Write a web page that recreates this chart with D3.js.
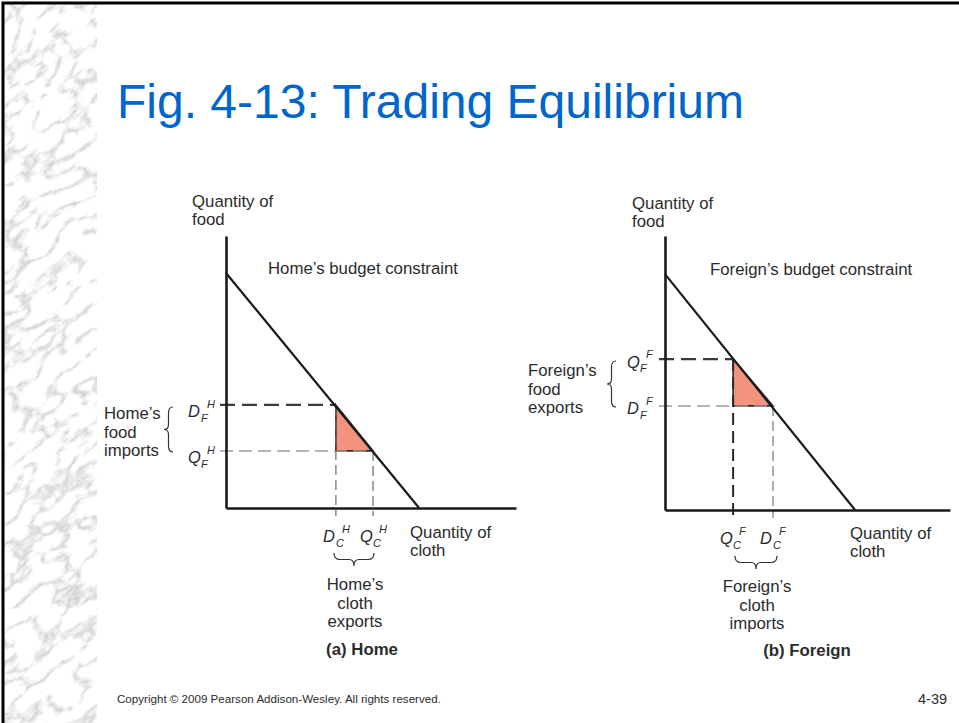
<!DOCTYPE html>
<html><head><meta charset="utf-8">
<script src="https://cdn.jsdelivr.net/npm/d3@7"></script>
<style>
html,body{margin:0;padding:0;background:#fff;}
svg{display:block;}
text{font-family:"Liberation Sans",Arial,Helvetica,sans-serif;}
</style>
</head><body>
<svg id="c" width="959" height="723"></svg>
<script>
// ---------- data ----------
const panelTitles = ["(a) Home", "(b) Foreign"];
const countryMarks = ["H", "F"];
const budgetFoodIntercept = [8.64, 8.61];
const budgetClothIntercept = [6.66, 6.67];
const clothConsumption = [3.79, 3.79];   // D_C
const clothProduction  = [5.07, 2.39];   // Q_C
const foodConsumption  = [3.79, 3.80];   // D_F
const foodProduction   = [2.10, 5.51];   // Q_F
const budgetLabels = ["Home\u2019s budget constraint", "Foreign\u2019s budget constraint"];
const foodTradeLabels = [["Home\u2019s","food","imports"], ["Foreign\u2019s","food","exports"]];
const clothTradeLabels = [["Home\u2019s","cloth","exports"], ["Foreign\u2019s","cloth","imports"]];
const axisTitleY = ["Quantity of", "food"];
const axisTitleX = ["Quantity of", "cloth"];
const titleText = "Fig. 4-13: Trading Equilibrium";
const copyrightText = "Copyright \u00a9 2009 Pearson Addison-Wesley. All rights reserved.";
const slideNumber = "4-39";

// ---------- layout ----------
const FS = 16.8;
const TXT = "#2b2b2b";
const layout = [
  {x0:226, x1:516, y0:508, y1:236, leftLabDy:12.5, yT:[192,207], bud:[268,274], xT:[410,538],
   foodLab:[104,419], foodBrace:[164,407,452], clothLab:[355,590], clothBrace:[334,374,553], pT:[362,655]},
  {x0:665, x1:950, y0:510, y1:236, leftLabDy:8.5, yT:[632,209], bud:[710,275], xT:[850,539],
   foodLab:[528,376], foodBrace:[607,361,407], clothLab:[757,592], clothBrace:[735,777,556], pT:[807,656]}
];

const svg = d3.select("#c");
const defs = svg.append("defs");

// marble strip
const f = defs.append("filter").attr("id","marble").attr("x",0).attr("y",0).attr("width","100%").attr("height","100%");
f.append("feTurbulence").attr("type","turbulence").attr("baseFrequency","0.03 0.055").attr("numOctaves",5).attr("seed",11).attr("result","t");
f.append("feColorMatrix").attr("in","t").attr("type","matrix")
  .attr("values","1.35 0 0 0 0.57  1.35 0 0 0 0.57  1.35 0 0 0 0.58  0 0 0 0 1");
defs.append("clipPath").attr("id","strip").append("rect").attr("x",4).attr("y",4).attr("width",93).attr("height",719);
svg.append("rect").attr("width",959).attr("height",723).attr("fill","#fff");
svg.append("g").attr("clip-path","url(#strip)")
  .append("rect").attr("x",-400).attr("y",-300).attr("width",900).attr("height",1400)
  .attr("transform","rotate(-40,50,360)").attr("filter","url(#marble)");
// frame
svg.append("path").attr("d","M3,723 V3 H959").attr("fill","none").attr("stroke","#000").attr("stroke-width",3);

// title
svg.append("text").attr("x",117).attr("y",118).attr("font-size",48).attr("fill","#0066CC").text(titleText);
svg.append("text").attr("x",117).attr("y",703).attr("font-size",11.6).attr("fill",TXT).text(copyrightText);
svg.append("text").attr("x",918).attr("y",704).attr("font-size",14.5).attr("fill",TXT).text(slideNumber);

function vBrace(x, y1, y2, w){
  const m=(y1+y2)/2, h=w/2;
  return `M${x+w},${y1} Q${x+h},${y1} ${x+h},${y1+6} L${x+h},${m-5} Q${x+h},${m} ${x},${m} Q${x+h},${m} ${x+h},${m+5} L${x+h},${y2-6} Q${x+h},${y2} ${x+w},${y2}`;
}
function hBrace(x1, x2, y, h){
  const m=(x1+x2)/2, k=h/2;
  return `M${x1},${y} Q${x1},${y+k} ${x1+6},${y+k} L${m-5},${y+k} Q${m},${y+k} ${m},${y+h} Q${m},${y+k} ${m+5},${y+k} L${x2-6},${y+k} Q${x2},${y+k} ${x2},${y}`;
}
function qLabel(g, x, y, main, sub, sup){
  const t = g.append("text").attr("font-style","italic").attr("fill",TXT);
  t.append("tspan").attr("x",x).attr("y",y).attr("font-size",16.5).text(main);
  t.append("tspan").attr("x",x+13).attr("y",y+4.5).attr("font-size",11).text(sub);
  t.append("tspan").attr("x",x+19).attr("y",y-9.5).attr("font-size",11).text(sup);
}
function multiLine(g, x, y, lines, anchor, dy){
  lines.forEach((s,i)=> g.append("text").attr("x",x).attr("y",y+i*dy).attr("font-size",FS)
     .attr("text-anchor",anchor).attr("fill",TXT).text(s));
}

panelTitles.forEach((pt, i) => {
  const L = layout[i];
  const g = svg.append("g");
  const x = d3.scaleLinear().domain([0,10]).range([L.x0, L.x1]);
  const y = d3.scaleLinear().domain([0,10]).range([L.y0, L.y1]);
  const sup = countryMarks[i];

  const DC = clothConsumption[i], QC = clothProduction[i], DF = foodConsumption[i], QF = foodProduction[i];
  const cons = [DC, DF], prod = [QC, QF];
  const upper = DF > QF ? cons : prod, lower = DF > QF ? prod : cons;

  // triangle
  const tri = [[upper[0], upper[1]], [upper[0], lower[1]], [lower[0], lower[1]]];
  g.append("path").attr("d", d3.line().x(d=>x(d[0])).y(d=>y(d[1]))(tri) + "Z")
    .attr("fill","#F3937D").attr("stroke","#2a2a2a").attr("stroke-width",1.6);

  // dashed guides
  const hStyle = [{c:"#3a3a3a",w:2.2,d:"15,7"},{c:"#9a9a9a",w:1.5,d:"13,6"}];
  [upper, lower].forEach((p, k) => {
    const s = hStyle[k];
    g.append("line").attr("x1",L.x0-6).attr("x2",x(p[0])).attr("y1",y(p[1])).attr("y2",y(p[1]))
      .attr("stroke",s.c).attr("stroke-width",s.w).attr("stroke-dasharray",s.d);
  });
  const vStyle = i===0 ? [{c:"#6a6a6a",w:1.2,d:"10,5"},{c:"#6a6a6a",w:1.2,d:"10,5"}]
                       : [{c:"#2a2a2a",w:2,d:"12,6"},{c:"#7a7a7a",w:1.2,d:"10,5"}];
  [upper, lower].forEach((p, k) => {
    const s = vStyle[k];
    g.append("line").attr("x1",x(p[0])).attr("x2",x(p[0])).attr("y1",y(p[1])).attr("y2",L.y0+8)
      .attr("stroke",s.c).attr("stroke-width",s.w).attr("stroke-dasharray",s.d);
  });

  // budget line
  g.append("path").attr("d", d3.line().x(d=>x(d[0])).y(d=>y(d[1]))([[0,budgetFoodIntercept[i]],[budgetClothIntercept[i],0]]))
    .attr("stroke","#1a1a1a").attr("stroke-width",2.2).attr("fill","none");

  // axes
  const ax = g.append("g").attr("transform",`translate(0,${L.y0})`)
    .call(d3.axisBottom(x).tickValues([]).tickSizeOuter(0));
  const ay = g.append("g").attr("transform",`translate(${L.x0},0)`)
    .call(d3.axisLeft(y).tickValues([]).tickSizeOuter(0));
  [ax, ay].forEach(a => a.select(".domain").attr("stroke","#1a1a1a").attr("stroke-width",2.6));

  // labels
  multiLine(g, L.yT[0], L.yT[1], axisTitleY, "start", 17.5);
  multiLine(g, L.xT[0], L.xT[1], axisTitleX, "start", 18);
  g.append("text").attr("x",L.bud[0]).attr("y",L.bud[1]).attr("font-size",FS).attr("fill",TXT).text(budgetLabels[i]);

  // left quantity labels
  qLabel(g, L.x0-38, y(upper[1]) + L.leftLabDy, upper===cons?"D":"Q", "F", sup);
  qLabel(g, L.x0-38, y(lower[1]) + L.leftLabDy, lower===cons?"D":"Q", "F", sup);
  // bottom quantity labels
  qLabel(g, x(upper[0])-13, L.y0+34, upper===cons?"D":"Q", "C", sup);
  qLabel(g, x(lower[0])-13, L.y0+34, lower===cons?"D":"Q", "C", sup);

  // braces + trade labels
  g.append("path").attr("d", vBrace(L.foodBrace[0], L.foodBrace[1], L.foodBrace[2], 9))
    .attr("fill","none").attr("stroke","#333").attr("stroke-width",1.2);
  multiLine(g, L.foodLab[0], L.foodLab[1], foodTradeLabels[i], "start", 18.5);
  g.append("path").attr("d", hBrace(L.clothBrace[0], L.clothBrace[1], L.clothBrace[2], 13))
    .attr("fill","none").attr("stroke","#333").attr("stroke-width",1.2);
  multiLine(g, L.clothLab[0], L.clothLab[1], clothTradeLabels[i], "middle", 18.5);

  g.append("text").attr("x",L.pT[0]).attr("y",L.pT[1]).attr("text-anchor","middle")
    .attr("font-size",FS).attr("font-weight","bold").attr("fill",TXT).text(pt);
});
</script>
</body></html>
